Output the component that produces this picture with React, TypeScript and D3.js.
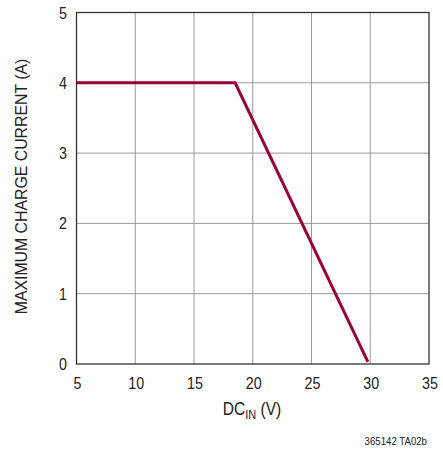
import React from "react";
import * as d3 from "d3";

const xTicks = [5, 10, 15, 20, 25, 30, 35];
const yTicks = [0, 1, 2, 3, 4, 5];
const dcIn = [5, 18.5, 29.8];
const current = [4, 4, 0.03];

const W = 443, H = 451;
const M = { left: 76.5, right: 429, top: 12.5, bottom: 364 };
const FONT = "'Liberation Sans', Arial, sans-serif";

function T(props: { x: number; y: number; anchor?: string; size: number; rot?: number; sx?: number; children: React.ReactNode }) {
  const { x, y, anchor = "middle", size, rot = 0, sx = 0.84, children } = props;
  return (
    <text
      transform={`translate(${x},${y}) rotate(${rot}) scale(${sx},1)`}
      textAnchor={anchor}
      fontFamily={FONT}
      fontSize={size}
      fill="#222"
    >
      {children}
    </text>
  );
}

export default function App() {
  const x = d3.scaleLinear().domain([5, 35]).range([M.left, M.right]);
  const y = d3.scaleLinear().domain([0, 5]).range([M.bottom, M.top]);
  const pts = dcIn.map((v, i) => [v, current[i]] as [number, number]);
  const line = d3.line<[number, number]>().x(d => x(d[0])).y(d => y(d[1]));
  return (
    <svg width={W} height={H} style={{ position: "absolute", left: 0, top: 0, background: "#fff" }}>
      {xTicks.slice(1, -1).map(t => (
        <line key={"gx" + t} x1={x(t)} x2={x(t)} y1={M.top} y2={M.bottom} stroke="#9a9a9a" strokeWidth={1} />
      ))}
      {yTicks.slice(1, -1).map(t => (
        <line key={"gy" + t} x1={M.left} x2={M.right} y1={y(t)} y2={y(t)} stroke="#9a9a9a" strokeWidth={1} />
      ))}
      <rect x={M.left} y={M.top} width={M.right - M.left} height={M.bottom - M.top} fill="none" stroke="#333" strokeWidth={1.3} />
      <path d={line(pts) || ""} fill="none" stroke="#990033" strokeWidth={3} strokeLinejoin="miter" />
      {xTicks.map(t => (
        <T key={"xt" + t} x={x(t) + 1} y={389} size={17}>{t}</T>
      ))}
      {yTicks.map(t => (
        <T key={"yt" + t} x={67} y={y(t) + 6} anchor="end" size={17}>{t}</T>
      ))}
      <T x={252} y={415} size={18.5}>
        DC<tspan fontSize={13} dy={4}>IN</tspan><tspan dy={-4}> (V)</tspan>
      </T>
      <T x={26.7} y={186.5} rot={-90} size={16.5} sx={0.96}>MAXIMUM CHARGE CURRENT (A)</T>
      <T x={427} y={445} anchor="end" size={11.5}>365142 TA02b</T>
    </svg>
  );
}
